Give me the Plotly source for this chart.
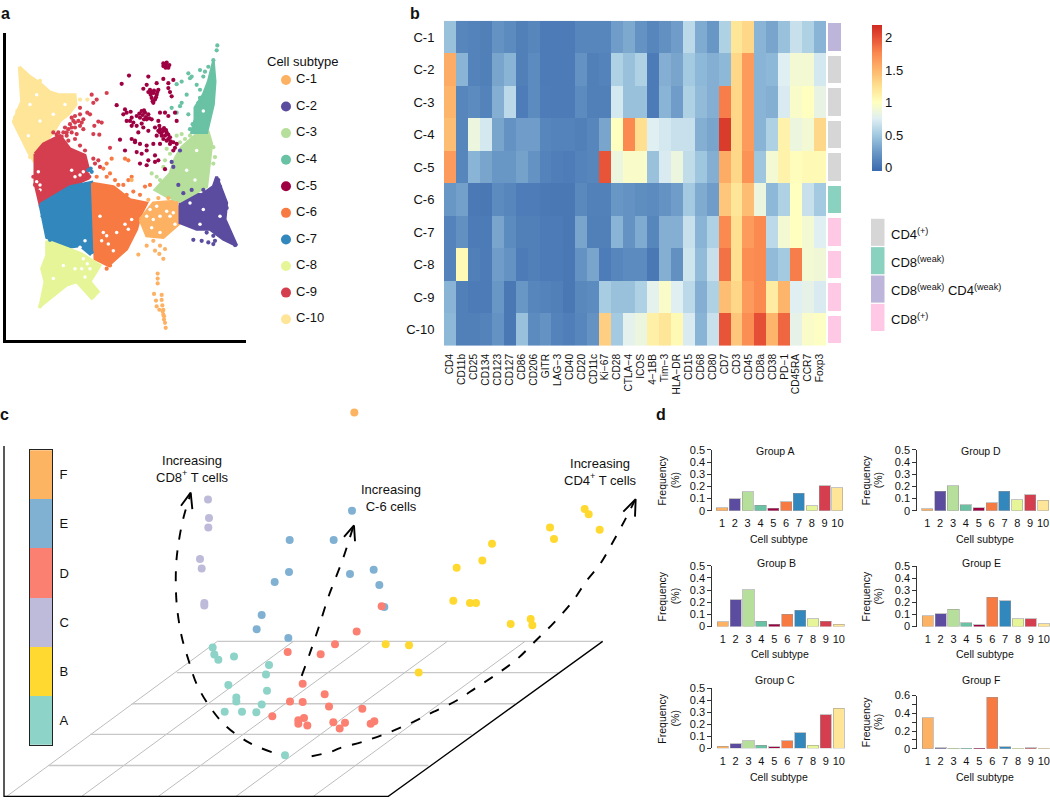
import plotly.graph_objects as go

W, H = 1050, 804
FONT = "Liberation Sans"
INK = "#111111"

# ---------- shared ----------
subtypes = ["C-1", "C-2", "C-3", "C-4", "C-5", "C-6", "C-7", "C-8", "C-9", "C-10"]
subtype_colors = ["#FDB163", "#5B4C9F", "#B5DF9A", "#68C2A3", "#9E0142",
                  "#F87A43", "#3288BD", "#E6F598", "#D53E4F", "#FEE598"]

# ---------- panel a: outlines of the dense regions, then isolated cells ----------
region_c10 = [(58,185),(90,215),(120,235),(150,262),(175,270),(225,270),(228,300),(205,330),(180,350),(160,385),(130,420),(100,470),(85,445),(62,400),(40,352),(65,290)]
region_c9 = [(105,450),(130,420),(180,395),(210,435),(255,455),(265,495),(265,525),(210,550),(120,605),(108,560),(105,540)]
region_c7 = [(120,605),(210,550),(275,537),(282,690),(282,740),(270,755),(240,730),(200,735),(140,705),(130,650)]
region_c6 = [(277,540),(340,550),(390,590),(440,600),(420,640),(410,680),(380,740),(325,790),(285,770),(283,700)]
region_c1 = [(420,650),(460,600),(520,595),(540,620),(540,660),(490,705),(440,700)]
region_c2 = [(540,600),(570,570),(605,575),(640,550),(650,520),(680,600),(675,650),(710,730),(670,710),(630,680),(590,680),(540,660)]
region_c3 = [(590,390),(625,385),(635,420),(630,470),(620,550),(540,595),(500,580),(465,560),(510,510),(525,465),(545,430)]
region_c4 = [(640,170),(645,230),(640,300),(620,385),(575,385),(585,345),(585,310),(610,270),(625,230)]
region_c8 = [(140,715),(205,740),(245,755),(300,790),(270,840),(295,870),(275,890),(230,840),(200,850),(120,915),(135,840),(125,800),(140,760)]
regions = [(region_c10, 9), (region_c9, 8), (region_c7, 6), (region_c6, 5),
           (region_c1, 0), (region_c2, 1), (region_c3, 2), (region_c4, 3), (region_c8, 7)]

cells_c5 = [(498,180),(490,175),(500,172),(508,180),(497,188),(505,188),(490,183),(387,212),(445,215),(520,225),
            (490,222),(470,235),(505,235),(365,237),(440,240),(450,255),(475,255),(510,262),(460,265),(470,270),
            (515,275),(455,280),(465,285),(460,295),(505,250),(430,252),(462,258),(452,270),(472,262),(350,302),
            (375,315),(380,325),(395,340),(425,320),(435,325),(445,330),(410,335),(420,340),(440,345),(455,345),
            (480,325),(495,325),(505,335),(530,350),(525,325),(475,350),(380,350),(395,365),(410,365),(430,370),
            (415,385),(445,380),(465,370),(480,375),(490,380),(500,385),(510,400),(485,395),(470,395),(500,410),
            (520,415),(530,420),(360,407),(395,405),(405,415),(420,420),(440,425),(460,420),(480,420),(375,440),
            (410,445),(425,450),(440,440),(520,440),(465,455),(475,470),(465,475),(420,480),(440,485),(495,497),
            (445,470),(405,410),(432,318),(428,332),(438,338),(492,372),(498,378),(505,392),(490,405),(480,385),
            (478,365),(512,412),(390,350),(370,330),(392,322),(455,262),(468,278),(458,290),(445,262),(485,385),
            (495,395),(475,380),(505,405),(432,345),(418,328),(448,342),(400,355),(425,358),(510,420),(525,432)]
cells_c9 = [(275,270),(320,265),(290,285),(280,295),(262,325),(270,330),(240,310),(295,352),(305,355),(283,365),
            (280,390),(298,392),(330,432),(280,465),(295,470),(300,490),(268,520),(100,520),(105,545),(115,565),(130,570),(285,480),
            (215,340),(225,335),(240,330),(250,345),(235,350),(220,350),(210,360),(240,365),(225,370),(205,375),(195,370),(250,375),
            (215,385),(190,385),(175,385),(160,385),(200,395),(185,398),(205,410),(230,390),(245,355),(215,370),(200,385),(225,355),
            (170,392),(225,405),(240,425),(255,440)]
cells_c6 = [(335,465),(320,480),(310,495),(330,510),(290,520),(320,520),(375,465),(385,470),(395,520),(385,530),
            (370,545),(355,545),(400,565),(435,550),(450,545),(330,790),(320,800),(345,530),(420,575),(380,575)]
cells_c1 = [(473,815),(473,830),(473,845),(462,877),(485,880),(468,897),(485,895),(470,915),(487,912),(490,925),
            (478,925),(490,940),(492,955),(495,965),(497,980),(488,930),(492,945),(460,715),(480,730),(495,740),
            (440,730),(415,757),(465,745),(490,770),(478,755),(395,530),(445,590),(475,585),(505,585),(530,600)]
cells_c2 = [(580,712),(605,715),(625,720),(640,725),(645,715),(620,690),(535,545),(520,490),(540,440),(515,475),
            (660,550),(675,595),(690,710),(705,728),(640,700),(550,570),(665,570),(680,615),(655,530),(575,560),(610,560)]
cells_c3 = [(530,395),(545,390),(555,405),(540,415),(570,395),(500,435),(510,450),(495,470),(490,490),(455,510),
            (470,520),(480,530),(645,460),(640,480),(620,450),(495,545),(580,410),(640,430)]
cells_c4 = [(652,120),(650,135),(640,165),(565,205),(570,220),(545,230),(530,238),(590,240),(600,255),(615,200),
            (600,195),(560,270),(545,295),(515,310),(530,325),(540,305),(565,330),(575,215),(625,185),(610,215),(600,280),
            (595,295),(578,360),(570,375),(590,330)]
cells_c8 = [(290,870),(280,885),(275,860),(120,915),(130,885),(150,880),(285,800)]
cells_c10 = [(120,228),(262,285),(45,340),(52,320),(75,225),(70,250),(240,285),(150,375),(90,460)]
cells_c7 = [(272,495),(265,500),(275,505),(265,740),(275,750),(128,640),(135,670),(150,712)]
cells = [(cells_c10, 9), (cells_c9, 8), (cells_c7, 6), (cells_c6, 5), (cells_c1, 0), (cells_c2, 1),
         (cells_c3, 2), (cells_c4, 3), (cells_c8, 7), (cells_c5, 4)]
gaps = [(450,620),(470,610),(500,625),(510,640),(480,640),(460,650),(520,630),(440,640),(480,690),(455,675),(525,665),
        (310,690),(320,700),(305,715),(325,725),(375,665),(395,650),(385,680),(300,640),(350,690),(340,745),
        (610,620),(660,640),(600,665),(570,600),(590,440),(560,500),(585,530),(215,500),(225,520),(240,515),(250,505),
        (115,505),(120,545),(120,560),(110,535),(270,505),(255,715),(240,735),(250,770),(262,785),(245,800),(270,800),(255,825),
        (190,790),(160,830),(225,800),(90,300),(110,270),(160,330),(120,350),(610,320),(85,395),(195,300)]

# ---------- panel b ----------
markers = ["CD4","CD11b","CD25","CD134","CD123","CD127","CD86","CD206","GITR","LAG\u22123","CD40","CD20","CD11c",
           "Ki\u221267","CD28","CTLA\u22124","ICOS","4\u22121BB","Tim\u22123","HLA\u2212DR","CD15","CD68","CD80","CD7",
           "CD3","CD45","CD8a","CD38","PD\u22121","CD45RA","CCR7","Foxp3"]
row_c1 = [.45,.12,.1,.08,.2,.15,.08,.12,.05,.05,.05,.12,.12,.12,.25,.32,.2,.12,.18,.25,.6,.33,.22,.55,1.2,1.3,.38,.3,.45,.65,.55,.38]
row_c2 = [1.55,.38,.1,.08,.3,.38,.08,.15,.05,.05,.05,.2,.08,.1,.55,.45,.55,.05,.35,.3,.5,.4,.35,.4,1.3,1.65,.38,.4,.75,.9,.9,.7]
row_c3 = [1.5,.12,.15,.1,.35,.6,.06,.15,.06,.05,.05,.15,.08,.08,.7,.45,.45,.05,.38,.25,.55,.42,.35,1.8,1.3,1.65,.38,.35,.72,.95,1.0,.82]
row_c4 = [1.45,.12,.85,.7,.3,.2,.25,.25,.12,.1,.1,.08,.12,.3,1.0,1.75,1.25,.75,.7,.65,.65,.35,.3,2.1,1.3,1.65,.38,.55,1.1,.85,.9,1.3]
row_c5 = [1.65,.12,.38,.3,.22,.22,.28,.2,.1,.07,.06,.1,.12,1.98,.85,.95,.95,.45,.72,.85,.62,.48,.35,1.55,1.3,1.7,.48,.9,1.1,1.02,1.05,1.05]
row_c6 = [.22,.27,.04,.03,.15,.12,.06,.06,.04,.03,.03,.14,.09,.09,.22,.2,.16,.15,.2,.25,.5,.33,.25,1.4,1.2,1.45,.85,.4,.55,1.0,.65,.5]
row_c7 = [.1,.18,.05,.05,.3,.15,.08,.08,.05,.05,.03,.3,.08,.08,.38,.2,.33,.12,.35,.35,.65,.38,.55,1.75,1.25,1.65,1.75,.6,.9,1.0,.9,.75]
row_c8 = [.1,1.05,.08,.05,.25,.2,.05,.08,.05,.05,.03,.2,.3,.06,.12,.15,.15,.03,.35,.18,.68,.42,.65,1.85,1.25,1.72,1.75,.42,.5,1.8,.9,.88]
row_c9 = [.38,.08,.05,.05,.22,.03,.22,.12,.1,.08,.03,.13,.15,.52,.45,.45,.55,.78,.95,.75,.6,.35,.55,1.45,1.3,1.65,1.75,1.15,1.5,.75,.8,.72]
row_c10 = [.4,.08,.08,.1,.2,.03,.45,.15,.2,.1,.07,.12,.2,1.35,.5,.78,.85,1.12,1.2,1.05,.72,.38,.65,1.98,1.4,1.72,2.0,1.5,1.9,.8,.95,.98]
heat = [row_c1,row_c2,row_c3,row_c4,row_c5,row_c6,row_c7,row_c8,row_c9,row_c10]
ZMIN, ZMAX = -0.06, 2.19
stops = [(-0.06,"#3A69AE"),(0.2,"#6493C3"),(0.5,"#A3CAE1"),(0.75,"#E0EFF2"),(1.0,"#FFFFBF"),
         (1.25,"#FEE090"),(1.5,"#FDB56C"),(1.75,"#FB8A50"),(2.0,"#E54F35"),(2.19,"#CF2A22")]
row_class_colors = ["#BDB5DA","#D6D6D6","#D6D6D6","#D6D6D6","#D6D6D6","#8AD1BF","#FFC9E5","#FFC9E5","#FFC9E5","#FFC9E5"]
class_legend = [("#D6D6D6","CD4<sup>(+)</sup>"),("#8AD1BF","CD8<sup>(weak)</sup>"),
                ("#BDB5DA","CD8<sup>(weak)</sup> CD4<sup>(weak)</sup>"),("#FFC9E5","CD8<sup>(+)</sup>")]

# ---------- panel c ----------
group_order = ["A","B","C","D","E","F"]
group_colors = {"A":"#8DD3C7","B":"#FFD92F","C":"#BEBADA","D":"#FB8072","E":"#80B1D3","F":"#FDB462"}
pts_A = [(638,754),(643,775),(655,791),(702,781),(807,807),(798,836),(685,868),(801,885),(709,906),(709,918),(785,927),(674,949),(726,949),(769,951),(855,1082)]
pts_C = [(624,303),(627,359),(625,388),(600,484),(605,513),(613,618),(613,626)]
pts_E = [(869,426),(867,524),(824,554),(785,655),(770,698),(865,725),(1056,337),(1001,426),(1050,530),(1121,517),(1138,563),(1153,630)]
pts_D = [(863,767),(962,774),(908,864),(974,896),(870,918),(908,920),(987,933),(817,963),(912,968),(895,975),(895,986),(922,991),
         (1145,628),(1070,705),(1005,744),(1087,940),(1000,981),(1035,983),(1019,1000),(1112,986),(1123,978)]
pts_B = [(1754,332),(1766,348),(1650,388),(1662,423),(1799,395),(1476,438),(1447,489),(1370,511),(1360,611),(1410,618),(1428,618),
         (1592,667),(1597,686),(1532,682),(1157,744),(1227,747),(1256,830)]
pts_F = [(1063,38)]
group_pts = {"A":pts_A,"C":pts_C,"E":pts_E,"D":pts_D,"B":pts_B,"F":pts_F}

floor_y = [735,830,925,1018,1113]
floor_left = [652,530,395,270,145]
floor_right = [1808,1675,1545,1415,1285]
diag_top = [652,880,1112,1342,1575]
diag_bottom = [20,245,475,708,940]
FLOOR_BOTTOM = 1207
frame_x = [12,12,1165,1808]
frame_y = [140,1207,1207,735]

curve_cd8 = [(815,1072),(750,1045),(680,995),(630,935),(590,865),(565,790),(545,720),(530,620),(528,510),(535,440),(550,360),(572,285)]
head_cd8 = [(543,322),(572,282),(577,332)]
curve_c6 = [(905,840),(930,770),(960,680),(985,600),(1002,555),(1030,480),(1060,385)]
head_c6 = [(1032,417),(1062,382),(1065,430)]
curve_cd4 = [(935,1085),(990,1072),(1020,1060),(1090,1040),(1160,1015),(1230,985),(1300,950),(1370,915),(1430,875),(1490,835),
             (1550,790),(1610,730),(1660,680),(1720,610),(1760,550),(1800,500),(1840,430),(1875,365),(1905,305)]
head_cd4 = [(1870,340),(1907,302),(1905,355)]

# ---------- panel d ----------
freq_A = [.025,.1,.155,.045,.02,.075,.145,.04,.205,.19]
freq_B = [.04,.22,.305,.045,.02,.1,.135,.065,.045,.02]
freq_C = [.02,.04,.065,.025,.015,.065,.13,.025,.28,.335]
freq_D = [.015,.16,.205,.05,.025,.065,.16,.09,.13,.085]
freq_E = [.09,.105,.145,.03,.015,.245,.215,.065,.065,.025]
freq_F = [.35,.012,.005,.003,.003,.58,.02,.008,.012,.005]
subtype_nums = list(range(1,11))
yt5 = [0,.1,.2,.3,.4,.5]
yl5 = ["0","0.1","0.2","0.3","0.4","0.5"]
yt6 = [0,.2,.4,.6]
yl6 = ["0","0.2","0.4","0.6"]
yminor6 = [.1,.3,.5]
panels = [
    dict(name="Group A", v=freq_A, ax=712.3, first=722.0, step=12.83, y0=512.3, ytop=450.7, ymax=.5, t=yt5, l=yl5, m=None, title_x=775.3, title_y=451.7, xt_y=540.7, yl1=662.3, yl2=675),
    dict(name="Group B", v=freq_B, ax=712.3, first=722.7, step=12.9,  y0=630.0, ytop=568.3, ymax=.5, t=yt5, l=yl5, m=None, title_x=776,   title_y=565.7, xt_y=658.3, yl1=662.3, yl2=675),
    dict(name="Group C", v=freq_C, ax=712.3, first=722.7, step=12.9,  y0=753.7, ytop=692.7, ymax=.5, t=yt5, l=yl5, m=None, title_x=775.3, title_y=684.7, xt_y=782.7, yl1=662.3, yl2=675),
    dict(name="Group D", v=freq_D, ax=917.3, first=927.3, step=12.86, y0=512.3, ytop=450.7, ymax=.5, t=yt5, l=yl5, m=None, title_x=980.7, title_y=451.7, xt_y=540.7, yl1=866.0, yl2=878),
    dict(name="Group E", v=freq_E, ax=917.3, first=927.7, step=12.9,  y0=630.0, ytop=568.7, ymax=.5, t=yt5, l=yl5, m=None, title_x=981,   title_y=565.7, xt_y=658.3, yl1=866.0, yl2=878),
    dict(name="Group F", v=freq_F, ax=917.3, first=927.7, step=12.9,  y0=754.0, ytop=700.0, ymax=.6, t=yt6, l=yl6, m=yminor6, title_x=981, title_y=684.7, xt_y=782.7, yl1=866.0, yl2=878),
]

# ---------- helpers ----------
def dx(a, b): return [a / W, b / W]
def dy(top, bot): return [1 - bot / H, 1 - top / H]
def xs(p): return [q[0] for q in p]
def ys(p): return [q[1] for q in p]

fig = go.Figure()
layout = dict(width=W, height=H, margin=dict(l=0, r=0, t=0, b=0), autosize=False,
              paper_bgcolor="white", plot_bgcolor="white", showlegend=False, barmode="stack",
              font=dict(family=FONT, color=INK, size=13))
hidden = dict(visible=False, fixedrange=True)
annotations, shapes = [], []

def note(x, y, text, size=13, anchor="center", bold=False, angle=0):
    annotations.append(dict(xref="paper", yref="paper", x=x / W, y=1 - y / H, text=f"<b>{text}</b>" if bold else text,
                            showarrow=False, xanchor=anchor, yanchor="middle", textangle=angle,
                            font=dict(family=FONT, size=size, color=INK)))

# panel a
layout["xaxis"] = dict(domain=dx(5.5, 246), range=[16.5, 738], showline=True, linewidth=3, linecolor="#000000",
                       showgrid=False, zeroline=False, showticklabels=False, ticks="", fixedrange=True, anchor="y")
layout["yaxis"] = dict(domain=dy(27, 339.5), range=[1018.5, 81], showline=True, linewidth=3, linecolor="#000000",
                       showgrid=False, zeroline=False, showticklabels=False, ticks="", fixedrange=True, anchor="x")
for poly, c in regions:
    col = subtype_colors[c]
    fig.add_trace(go.Scatter(x=xs(poly)+[poly[0][0]], y=ys(poly)+[poly[0][1]], mode="lines", fill="toself",
                             fillcolor=col, line=dict(color=col, width=3), xaxis="x", yaxis="y", hoverinfo="skip"))
fig.add_trace(go.Scatter(x=xs(gaps), y=ys(gaps), mode="markers", marker=dict(size=3.5, color="white"),
                         xaxis="x", yaxis="y", hoverinfo="skip"))
for pts, c in cells:
    fig.add_trace(go.Scatter(x=xs(pts), y=ys(pts), mode="markers", marker=dict(size=4.2, color=subtype_colors[c]),
                             xaxis="x", yaxis="y", cliponaxis=False, hoverinfo="skip"))

# panel a legend
layout["xaxis2"] = dict(domain=dx(280, 345), range=[0, 65], anchor="y2", **hidden)
layout["yaxis2"] = dict(domain=dy(61.6, 331.4), range=[10.5, 0.5], anchor="x2", **hidden)
fig.add_trace(go.Scatter(x=[6]*10, y=subtype_nums, mode="markers", marker=dict(size=10, color=subtype_colors),
                         xaxis="x2", yaxis="y2", hoverinfo="skip"))
fig.add_trace(go.Scatter(x=[16]*10, y=subtype_nums, mode="text", text=subtypes, textposition="middle right",
                         textfont=dict(size=13, family=FONT, color=INK), xaxis="x2", yaxis="y2", hoverinfo="skip"))
note(303, 56, "Cell subtype", 13)

# panel b
scale = [[(v - ZMIN) / (ZMAX - ZMIN), c] for v, c in stops]
fig.add_trace(go.Heatmap(z=heat, x=markers, y=subtypes, colorscale=scale, zmin=ZMIN, zmax=ZMAX, xaxis="x3", yaxis="y3",
                         colorbar=dict(x=872 / W, xanchor="left", y=1 - 168 / H, yanchor="bottom",
                                       lenmode="pixels", len=146, thicknessmode="pixels", thickness=10,
                                       outlinewidth=0, ticks="", xpad=0, ypad=0, tickfont=dict(size=13, family=FONT, color=INK),
                                       tickvals=[0, .5, 1, 1.5, 2], ticktext=["0", "0.5", "1", "1.5", "2"])))
layout["xaxis3"] = dict(domain=dx(444, 826), tickangle=-90, tickfont=dict(size=10.2, family=FONT), showgrid=False, zeroline=False,
                        ticks="outside", ticklen=3, tickcolor="rgba(0,0,0,0)", tickmode="array", tickvals=markers, ticktext=markers,
                        fixedrange=True, anchor="y3")
layout["yaxis3"] = dict(domain=dy(15, 345), autorange="reversed", tickfont=dict(size=13, family=FONT), showgrid=False,
                        zeroline=False, ticks="outside", ticklen=6, tickcolor="rgba(0,0,0,0)", fixedrange=True, anchor="x3")
fig.add_trace(go.Bar(x=[1]*10, y=subtypes, orientation="h", width=.85, marker=dict(color=row_class_colors, line=dict(width=0)),
                     xaxis="x4", yaxis="y4", hoverinfo="y"))
layout["xaxis4"] = dict(domain=dx(828, 841), range=[0, 1], anchor="y4", **hidden)
layout["yaxis4"] = dict(domain=dy(15, 345), autorange="reversed", anchor="x4", **hidden)
for i, (col, lab) in enumerate(class_legend):
    top = 216 + i * 28.8
    shapes.append(dict(type="rect", xref="paper", yref="paper", x0=871 / W, x1=884.5 / W, y0=1 - top / H, y1=1 - (top + 27.5) / H,
                       fillcolor=col, line=dict(width=0)))
    note(889, top + 15, lab, 13, anchor="left")

# panel c
layout["xaxis5"] = dict(domain=dx(0, 660), range=[0, 1980], anchor="y5", **hidden)
layout["yaxis5"] = dict(domain=dy(400, 804), range=[1212, 0], anchor="x5", **hidden)
for i in range(5):
    fig.add_trace(go.Scatter(x=[floor_left[i], floor_right[i]], y=[floor_y[i], floor_y[i]], mode="lines",
                             line=dict(color="#C8C8C8", width=1.3), xaxis="x5", yaxis="y5", hoverinfo="skip"))
    fig.add_trace(go.Scatter(x=[diag_top[i], diag_bottom[i]], y=[floor_y[0], FLOOR_BOTTOM], mode="lines",
                             line=dict(color="#BDBDBD", width=1), xaxis="x5", yaxis="y5", hoverinfo="skip"))
fig.add_trace(go.Scatter(x=frame_x, y=frame_y, mode="lines", line=dict(color="#000000", width=1.3),
                         xaxis="x5", yaxis="y5", hoverinfo="skip"))
for g in ["A", "C", "E", "B", "D", "F"]:
    p = group_pts[g]
    fig.add_trace(go.Scatter(x=xs(p), y=ys(p), mode="markers", marker=dict(size=8, color=group_colors[g]), name=g,
                             xaxis="x5", yaxis="y5", cliponaxis=False))
for curve, head in [(curve_cd8, head_cd8), (curve_c6, head_c6), (curve_cd4, head_cd4)]:
    fig.add_trace(go.Scatter(x=xs(curve), y=ys(curve), mode="lines", line=dict(color="#000000", width=1.9, dash="10px,11px", shape="spline"),
                             xaxis="x5", yaxis="y5", hoverinfo="skip"))
    fig.add_trace(go.Scatter(x=xs(head), y=ys(head), mode="lines", line=dict(color="#000000", width=1.9),
                             xaxis="x5", yaxis="y5", hoverinfo="skip"))
note(192, 470, "Increasing<br>CD8<sup>+</sup> T cells", 13)
note(391, 499, "Increasing<br>C-6 cells", 13)
note(600, 473, "Increasing<br>CD4<sup>+</sup> T cells", 13)

# panel c group colour bar
for g in group_order:
    fig.add_trace(go.Bar(x=["group"], y=[1], width=1, marker=dict(color=group_colors[g], line=dict(width=0)), name=g,
                         xaxis="x6", yaxis="y6"))
layout["xaxis6"] = dict(domain=dx(29.5, 52), showticklabels=False, ticks="", showline=True, mirror=True, linecolor="#222222",
                        linewidth=1, fixedrange=True, anchor="y6")
layout["yaxis6"] = dict(domain=dy(451, 750), range=[0, 6], side="right", tickvals=[.5, 1.5, 2.5, 3.5, 4.5, 5.5], ticktext=group_order,
                        tickfont=dict(size=13, family=FONT), ticks="outside", ticklen=4, tickcolor="rgba(0,0,0,0)", showgrid=False, zeroline=False,
                        showline=True, mirror=True, linecolor="#222222", linewidth=1, fixedrange=True, anchor="x6")

# panel d
for k, p in enumerate(panels):
    n = 7 + k
    left = p["ax"]
    right = min(p["first"] + 9 * p["step"] + 8.5, W)
    r0 = 1 - (p["first"] - left) / p["step"]
    r1 = 1 + (right - p["first"]) / p["step"]
    fig.add_trace(go.Bar(x=subtype_nums, y=p["v"], width=.86, marker=dict(color=subtype_colors, line=dict(color="rgba(150,150,150,.55)", width=1)),
                         xaxis=f"x{n}", yaxis=f"y{n}", cliponaxis=False, name=p["name"]))
    layout[f"xaxis{n}"] = dict(domain=dx(left, right), range=[r0, r1], tickmode="array", tickvals=subtype_nums, ticktext=[str(i) for i in subtype_nums],
                               tickfont=dict(size=11, family=FONT), ticks="outside", ticklen=2, tickcolor="rgba(0,0,0,0)", showline=False,
                               showgrid=False, zeroline=False, fixedrange=True, anchor=f"y{n}")
    yax = dict(domain=dy(p["ytop"], p["y0"]), range=[0, p["ymax"]], tickmode="array", tickvals=p["t"], ticktext=p["l"],
               tickfont=dict(size=11, family=FONT), ticks="outside", ticklen=4, tickcolor="#333333", showline=True, linecolor="#333333",
               linewidth=1, showgrid=False, zeroline=False, fixedrange=True, anchor=f"x{n}")
    if p["m"]:
        yax["minor"] = dict(tickmode="array", tickvals=p["m"], ticks="outside", ticklen=4, tickcolor="#333333", showgrid=False)
    layout[f"yaxis{n}"] = yax
    note(p["title_x"], p["title_y"], p["name"], 10.5)
    note(p["title_x"] + 4, p["xt_y"], "Cell subtype", 10.5)
    cy = (p["ytop"] + p["y0"]) / 2
    note(p["yl1"], cy, "Frequency", 10.5, angle=-90)
    note(p["yl2"], cy, "(%)", 10.5, angle=-90)

# panel letters
for x, y, t in [(5.5, 8, "a"), (415, 7.5, "b"), (4.5, 415, "c"), (661, 415, "d")]:
    note(x, y, t, 16, bold=True)

layout["annotations"] = annotations
layout["shapes"] = shapes
fig.update_layout(**layout)
fig.write_html("out.html", config=dict(displayModeBar=False),
               post_script="document.body.style.margin='0';document.body.style.overflow='hidden';")
